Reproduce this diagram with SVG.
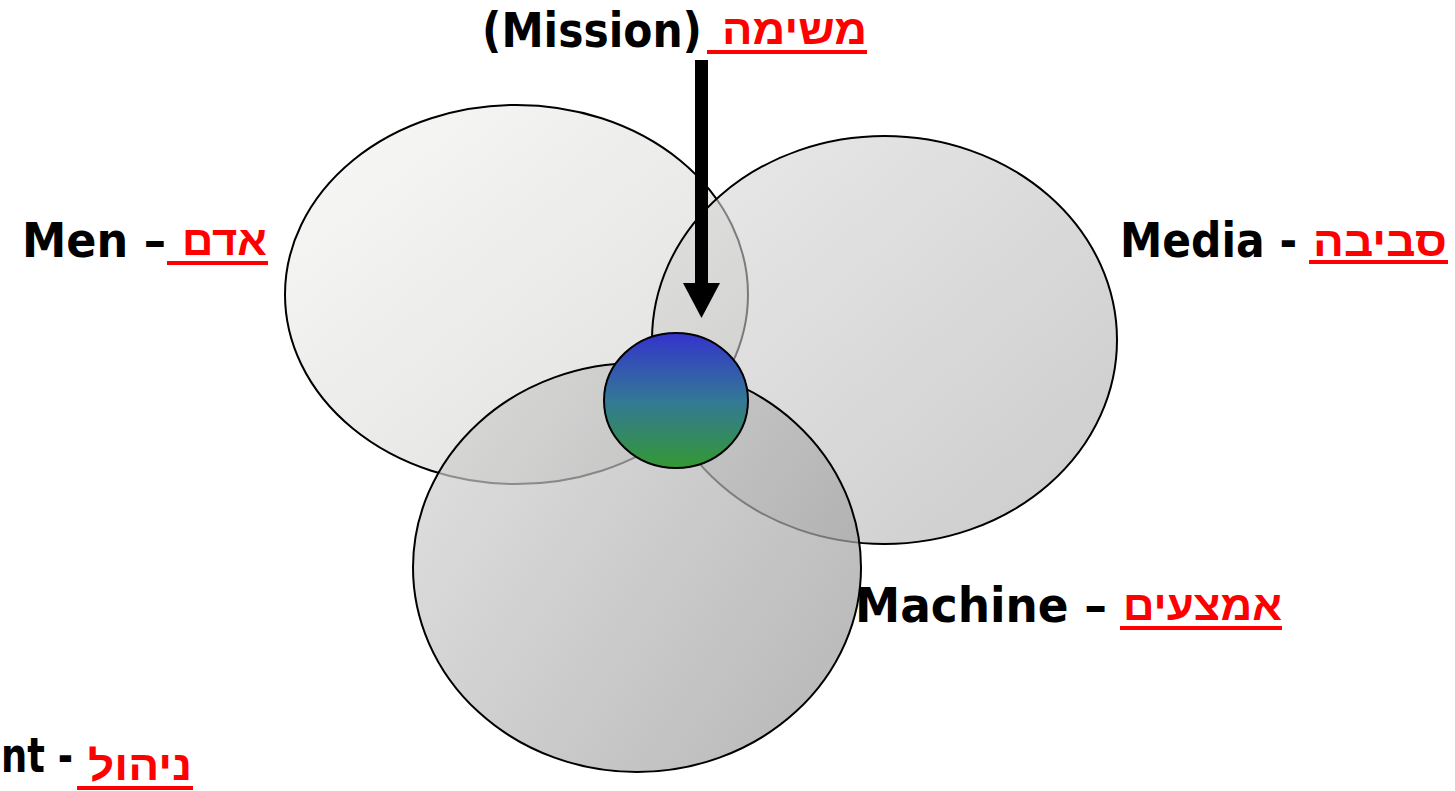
<svg xmlns="http://www.w3.org/2000/svg" width="1455" height="791" viewBox="0 0 1455 791">
  <style>
    .ring { stroke: #000; stroke-width: 2; }
    .en { font-family: "DejaVu Sans", Verdana, sans-serif; font-weight: bold; font-size: 48px; fill: #000; }
    .he { font-family: "Liberation Sans", Arial, sans-serif; font-weight: bold; font-size: 42px; fill: #ff0000; }
    .ul { fill: #ff0000; }
  </style>
  <defs>
    <linearGradient id="gMen" x1="0" y1="0" x2="1" y2="1">
      <stop offset="0" stop-color="#f9f9f7"/>
      <stop offset="1" stop-color="#dededc"/>
    </linearGradient>
    <linearGradient id="gMedia" x1="0" y1="0" x2="1" y2="1">
      <stop offset="0" stop-color="#dcdcdc"/>
      <stop offset="1" stop-color="#a8a8a8"/>
    </linearGradient>
    <linearGradient id="gMgmt" x1="0" y1="0" x2="1" y2="0.6">
      <stop offset="0" stop-color="#d6d6d6"/>
      <stop offset="1" stop-color="#a0a0a0"/>
    </linearGradient>
    <linearGradient id="gCore" x1="0" y1="0" x2="0" y2="1">
      <stop offset="0" stop-color="#3333cc"/>
      <stop offset="0.5" stop-color="#337896"/>
      <stop offset="1" stop-color="#339933"/>
    </linearGradient>
  </defs>

  <g id="men">
    <ellipse class="ring" cx="516.5" cy="294.5" rx="231.5" ry="189.5" fill="url(#gMen)"/>
  </g>
  <g id="media">
    <ellipse class="ring" cx="884.5" cy="340" rx="232.5" ry="204" fill="url(#gMedia)" fill-opacity="0.6"/>
  </g>
  <g id="management">
    <ellipse class="ring" cx="637" cy="567.5" rx="224" ry="204.5" fill="url(#gMgmt)" fill-opacity="0.7"/>
  </g>
  <g id="core">
    <ellipse class="ring" cx="676" cy="400.5" rx="72" ry="67.5" fill="url(#gCore)"/>
  </g>

  <g id="connectors">
    <rect x="695" y="60" width="13" height="225" fill="#000"/>
    <polygon points="683,283 720,283 701.5,318" fill="#000"/>
  </g>

  <g id="label-mission">
    <text class="en" x="482" y="47" textLength="220" lengthAdjust="spacingAndGlyphs">(Mission)</text>
    <text class="he" x="794.5" y="44" text-anchor="middle" textLength="145" lengthAdjust="spacingAndGlyphs">משימה</text>
    <rect class="ul" x="707" y="50" width="160" height="4"/>
  </g>
  <g id="label-men">
    <text class="en" x="22" y="257" textLength="144" lengthAdjust="spacingAndGlyphs">Men –</text>
    <text class="he" x="224.5" y="255" text-anchor="middle" textLength="85" lengthAdjust="spacingAndGlyphs">אדם</text>
    <rect class="ul" x="167" y="261" width="101" height="4"/>
  </g>
  <g id="label-media">
    <text class="en" x="1120" y="257" textLength="177" lengthAdjust="spacingAndGlyphs">Media -</text>
    <text class="he" x="1380" y="256" text-anchor="middle" textLength="134" lengthAdjust="spacingAndGlyphs">סביבה</text>
    <rect class="ul" x="1309" y="260" width="139" height="4"/>
  </g>
  <g id="label-machine">
    <text class="en" x="855" y="622" textLength="252" lengthAdjust="spacingAndGlyphs">Machine –</text>
    <text class="he" x="1202.5" y="620" text-anchor="middle" textLength="159" lengthAdjust="spacingAndGlyphs">אמצעים</text>
    <rect class="ul" x="1120" y="626" width="162" height="4"/>
  </g>
  <g id="label-management">
    <text class="en" x="1" y="772" textLength="72" lengthAdjust="spacingAndGlyphs">nt -</text>
    <text class="he" x="140" y="780" text-anchor="middle" textLength="104" lengthAdjust="spacingAndGlyphs">ניהול</text>
    <rect class="ul" x="77" y="786" width="116" height="4"/>
  </g>
</svg>
